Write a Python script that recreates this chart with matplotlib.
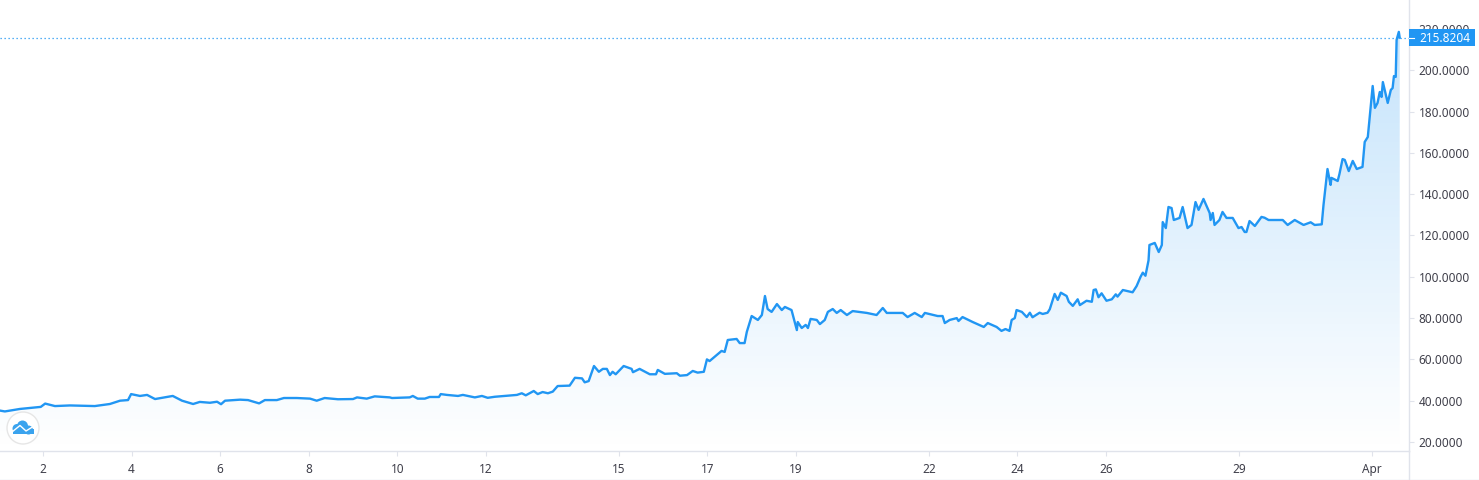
"""Price chart with a gradient area under the line and a last-price tag."""

import numpy as np
import matplotlib
matplotlib.use("Agg")
import matplotlib.pyplot as plt
from matplotlib.colors import LinearSegmentedColormap
from matplotlib.patches import Circle, Rectangle
from matplotlib.transforms import blended_transform_factory

# -- Data (day of March, price) --
days = [
    1.03, 1.14, 1.48, 1.95, 2.05, 2.27, 2.61, 3.17, 3.51, 3.74, 3.92, 3.99, 4.19, 4.35, 4.53,
    4.93, 5.14, 5.39, 5.54, 5.77, 5.93, 6.02, 6.11, 6.45, 6.63, 6.88, 7.01, 7.28, 7.44, 7.73,
    8.03, 8.18, 8.36, 8.66, 9.00, 9.09, 9.31, 9.49, 9.83, 9.88, 10.28, 10.35, 10.46, 10.62,
    10.73, 10.94, 10.98, 11.12, 11.37, 11.48, 11.75, 11.91, 12.04, 12.20, 12.70, 12.81, 12.90,
    13.08, 13.17, 13.28, 13.40, 13.51, 13.62, 13.89, 14.01, 14.17, 14.23, 14.32, 14.44, 14.55,
    14.64, 14.73, 14.80, 14.86, 14.93, 15.11, 15.29, 15.32, 15.47, 15.70, 15.84, 15.88, 16.04,
    16.31, 16.38, 16.54, 16.67, 16.78, 16.92, 16.99, 17.05, 17.32, 17.39, 17.46, 17.66, 17.73,
    17.84, 17.89, 18.00, 18.14, 18.23, 18.30, 18.36, 18.45, 18.57, 18.68, 18.75, 18.90, 19.02,
    19.04, 19.13, 19.22, 19.27, 19.33, 19.47, 19.54, 19.65, 19.72, 19.83, 19.92, 20.01, 20.15,
    20.28, 20.60, 20.82, 20.96, 21.05, 21.41, 21.52, 21.68, 21.84, 21.91, 22.20, 22.31, 22.36,
    22.47, 22.63, 22.67, 22.76, 22.99, 23.24, 23.33, 23.53, 23.64, 23.73, 23.82, 23.87, 23.94,
    23.98, 24.10, 24.21, 24.28, 24.34, 24.50, 24.57, 24.68, 24.73, 24.84, 24.91, 24.98, 25.11,
    25.16, 25.25, 25.36, 25.41, 25.56, 25.68, 25.72, 25.77, 25.83, 25.90, 26.01, 26.13, 26.22,
    26.26, 26.38, 26.60, 26.69, 26.78, 26.83, 26.89, 26.96, 26.98, 27.10, 27.19, 27.26, 27.28,
    27.35, 27.41, 27.48, 27.53, 27.66, 27.73, 27.84, 27.93, 28.02, 28.09, 28.20, 28.34, 28.36,
    28.41, 28.45, 28.56, 28.63, 28.72, 28.86, 28.99, 29.06, 29.13, 29.17, 29.24, 29.36, 29.51,
    29.58, 29.67, 29.99, 30.10, 30.26, 30.46, 30.62, 30.71, 30.87, 30.91, 31.00, 31.07, 31.09,
    31.23, 31.27, 31.34, 31.39, 31.48, 31.57, 31.66, 31.79, 31.84, 31.91, 32.02, 32.07, 32.13,
    32.18, 32.22, 32.25, 32.36, 32.43, 32.47, 32.50, 32.54, 32.56, 32.61, 32.63,
]
prices = [
    35.2, 34.8, 36.0, 37.0, 38.6, 37.4, 37.7, 37.4, 38.4, 40.0, 40.3, 43.2, 42.3, 42.8, 40.8,
    42.3, 40.0, 38.4, 39.4, 39.0, 39.5, 38.3, 40.0, 40.5, 40.3, 38.7, 40.3, 40.3, 41.3, 41.3,
    41.0, 40.0, 41.3, 40.7, 40.8, 41.6, 41.0, 42.1, 41.6, 41.3, 41.6, 42.3, 41.0, 41.0,
    41.8, 41.8, 43.2, 42.8, 42.3, 42.8, 41.6, 42.3, 41.4, 41.9, 42.8, 43.6, 42.6,
    44.7, 43.2, 44.2, 43.6, 44.4, 47.1, 47.3, 51.1, 50.8, 48.9, 49.5, 56.8, 54.0,
    55.4, 55.4, 52.4, 54.0, 52.8, 56.8, 55.4, 53.8, 55.4, 52.8, 52.8, 54.9, 53.0,
    53.3, 52.1, 52.4, 54.4, 53.6, 54.0, 60.0, 59.2, 64.1, 63.6, 69.4, 69.9, 67.9,
    67.9, 73.3, 81.0, 79.1, 81.5, 90.7, 84.4, 83.0, 86.8, 83.9, 85.4, 83.9, 74.2,
    78.1, 75.2, 76.7, 75.2, 79.6, 79.1, 77.1, 79.1, 83.0, 84.4, 82.5, 83.9, 81.5,
    83.4, 82.5, 81.5, 84.9, 82.5, 82.5, 80.5, 82.5, 80.5, 82.5, 81.0, 81.0, 77.6,
    79.1, 80.0, 78.6, 80.5, 78.1, 75.7, 77.6, 75.7, 73.8, 74.7, 73.8, 79.1, 80.0,
    83.9, 83.0, 80.5, 82.6, 80.4, 82.6, 82.0, 82.6, 84.3, 91.7, 88.8, 92.3, 90.7,
    87.9, 85.9, 89.1, 86.3, 88.4, 87.9, 93.6, 93.9, 90.1, 92.0, 88.4, 89.1, 91.5,
    90.4, 93.6, 92.5, 95.5, 100.0, 102.0, 100.5, 108.0, 115.4, 116.4, 112.0, 115.4, 126.5,
    123.6, 133.8, 133.3, 127.5, 128.5, 133.8, 123.6, 125.1, 136.2, 132.4, 137.7, 130.9, 127.5,
    130.9, 125.1, 127.5, 131.4, 128.5, 128.5, 123.6, 124.1, 121.7, 121.7, 127.0, 124.6, 129.0,
    128.6, 127.5, 127.5, 125.1, 127.5, 125.1, 126.4, 125.1, 125.4, 134.8, 152.2, 144.5, 147.9,
    146.4, 149.8, 157.0, 156.6, 151.2, 156.1, 152.2, 153.2, 165.3, 167.7, 192.4, 181.8, 184.2,
    189.5, 187.1, 194.3, 184.2, 190.5, 191.4, 197.2, 196.8, 214.7, 218.6, 215.8204,
]
x_ticks = [2, 4, 6, 8, 10, 12, 15, 17, 19, 22, 24, 26, 29, 32]
x_labels = ["2", "4", "6", "8", "10", "12", "15", "17", "19", "22", "24", "26", "29", "Apr"]
y_ticks = [20, 40, 60, 80, 100, 120, 140, 160, 180, 200, 220]
last_price = 215.8204

BLUE = "#2196f3"
GRID = "#e0e3eb"
TEXT = "#3f3f4a"
W, H = 1479, 480

plt.rcParams["font.family"] = ["Noto Sans", "DejaVu Sans"]

fig = plt.figure(figsize=(W / 100, H / 100), dpi=100, facecolor="white")
ax = fig.add_axes([0, 1 - 451 / H, 1409 / W, 451 / H])
ax.set_xlim(1.03, 32.84)
ax.set_ylim(15.64, 234.04)
ax.set_facecolor("white")

# gradient under the line, clipped by the area polygon
cmap = LinearSegmentedColormap.from_list(
    "fade", [(0.13, 0.59, 0.95, 0.0), (0.13, 0.59, 0.95, 0.28)]
)
area = ax.fill_between(days, prices, 15.64, facecolor="none", edgecolor="none")
grad = ax.imshow(
    np.linspace(1, 0, 256).reshape(-1, 1),
    extent=[1.03, 32.84, 15.64, 234.04],
    cmap=cmap, vmin=0, vmax=1, aspect="auto", zorder=1,
)
grad.set_clip_path(area.get_paths()[0], transform=ax.transData)

ax.plot(days, prices, color=BLUE, lw=1.7, solid_joinstyle="round", zorder=3)
ax.axhline(last_price, color=BLUE, lw=0.9, ls=(0, (1, 2.2)), zorder=2)

for side in ["top", "left"]:
    ax.spines[side].set_visible(False)
for side in ["bottom", "right"]:
    ax.spines[side].set_color(GRID)
    ax.spines[side].set_linewidth(1.0)

ax.set_xticks(x_ticks, x_labels)
ax.set_yticks(y_ticks, [f"{v:.4f}" for v in y_ticks])
ax.yaxis.tick_right()
ax.tick_params(axis="x", length=3.5, width=0.8, color=GRID, labelcolor=TEXT, labelsize=8.5, pad=5)
ax.tick_params(axis="y", length=3.5, width=0.8, color=GRID, labelcolor=TEXT, labelsize=8.5, pad=3.6)

# last price tag on the axis
trans = blended_transform_factory(ax.transAxes, ax.transData)
ax.add_patch(Rectangle((1.0, last_price - 4.1), 66 / 1409, 8.2, transform=trans,
                       facecolor=BLUE, edgecolor="none", clip_on=False, zorder=6))
ax.plot([1.0, 1.0 + 5 / 1409], [last_price, last_price], transform=trans,
        color="white", lw=0.8, clip_on=False, zorder=7)
ax.text(1.0 + 10 / 1409, last_price - 0.2, f"{last_price:.4f}", transform=trans, color="white",
        fontsize=8.5, fontweight="semibold", va="center", ha="left", zorder=7)

# bottom strip lines and logo, in pixel coordinates of the image
over = fig.add_axes([0, 0, 1, 1], facecolor="none")
over.set_xlim(0, W)
over.set_ylim(H, 0)
over.axis("off")
over.plot([0, W], [479.5, 479.5], color=GRID, lw=1.0)
over.plot([1409, 1409], [451, 480], color=GRID, lw=1.0)

over.add_patch(Circle((23, 428), 16, facecolor="white", edgecolor="#e6e6e6", lw=1.0))
for cx, cy, r in [(17, 428.5, 4.5), (22.5, 426, 5.5), (28.5, 430, 4.5)]:
    over.add_patch(Circle((cx, cy), r, facecolor="#3aa3ee", edgecolor="none"))
over.add_patch(Rectangle((12.5, 429), 21, 5, facecolor="#3aa3ee", edgecolor="none"))
over.plot([12, 20, 26, 34], [432, 425.5, 431, 426], color="white", lw=1.0)

print(len(days), len(prices))
fig.savefig("out.png", dpi=100, facecolor="white")
